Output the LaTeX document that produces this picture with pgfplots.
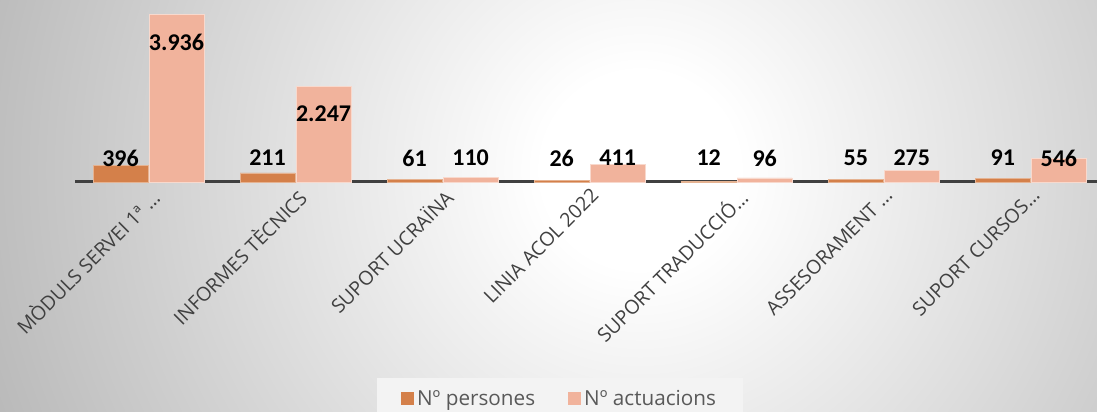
\documentclass[border=0pt]{standalone}
\usepackage{pgfplots}
\pgfplotsset{compat=1.18}
\usepackage{pgfplotstable}
\usepackage{fontspec}
\setmainfont{Carlito}
\newfontfamily\osans{Open Sans}
\definecolor{cdark}{HTML}{D4804A}
\definecolor{clight}{HTML}{F1B39C}
\definecolor{axgray}{HTML}{404040}
\definecolor{txtgray}{HTML}{404040}
\definecolor{leggray}{HTML}{595959}
\definecolor{legbg}{HTML}{F3F3F3}
\definecolor{bgedge}{HTML}{B8B8B8}
\pgfdeclareradialshading{bgshade}{\pgfpoint{0bp}{0bp}}{color(0bp)=(white); color(3.5bp)=(white); color(25bp)=(bgedge); color(50bp)=(bgedge)}

\pgfplotstableread{
x pers act pshift ashift alab
0 396 3936 7.1 -28.5 3.936
1 211 2247 15 -27.5 2.247
2 61 110 21.4 19.3 110
3 26 411 22.9 6.5 411
4 12 96 23.5 19.9 96
5 55 275 21.7 12.3 275
6 91 546 20.1 0.7 546
}\datatable

\begin{document}
\begin{tikzpicture}
\useasboundingbox (0,0) rectangle (1097pt,412pt);
\begin{scope}
\clip (0,0) rectangle (1097pt,412pt);
\shade[shading=bgshade] (-60pt,-458pt) rectangle (1340pt,942pt);
\end{scope}
\begin{axis}[
  at={(75pt,230pt)}, anchor=south west,
  scale only axis, width=1022pt, height=172pt,
  ybar=1pt, bar width=55pt,
  xmin=-0.5, xmax=6.45, ymin=0, ymax=4030,
  axis y line=none, axis x line*=bottom,
  x axis line style={line width=3pt, color=axgray, -},
  xtick=data,
  xticklabels={{MÒDULS SERVEI 1ª …},{INFORMES TÈCNICS},{SUPORT UCRAÏNA},{LINIA ACOL 2022},{SUPORT TRADUCCIÓ…},{ASSESORAMENT …},{SUPORT CURSOS…}},
  xticklabel style={rotate=45, anchor=north east, font=\osans\fontsize{19.5}{23}\selectfont, text=txtgray},
  major tick length=0pt,
  clip=false,
  legend columns=2,
  legend style={at={(0.4746,-1.1395)}, anchor=north, fill=legbg, draw=none,
    font=\osans\fontsize{20.7}{24}\selectfont, text=leggray,
    inner xsep=24pt, inner ysep=10pt,
    nodes={inner xsep=3pt},
    /tikz/every even column/.append style={column sep=30pt}},
  legend image code/.code={\path[#1,draw=none] (0pt,-6pt) rectangle (13pt,7pt);},
  point meta=explicit symbolic,
  nodes near coords,
  nodes near coords style={anchor=center, yshift=\sh pt, font=\fontsize{24}{27}\selectfont\bfseries, text=black},
]
\addplot[fill=cdark, draw=cdark!60!white, line width=0.8pt,
  visualization depends on={\thisrow{pshift} \as \sh}]
  table[x=x, y=pers, meta=pers] {\datatable};
\addlegendentry{Nº persones}
\addplot[fill=clight, draw=clight!50!white, line width=0.8pt,
  visualization depends on={\thisrow{ashift} \as \sh}]
  table[x=x, y=act, meta=alab] {\datatable};
\addlegendentry{Nº actuacions}
\end{axis}
\end{tikzpicture}
\end{document}
